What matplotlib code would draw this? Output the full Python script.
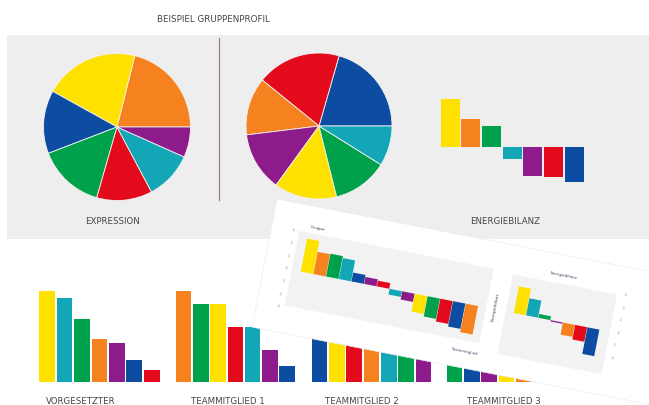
import matplotlib
matplotlib.use('Agg')
import matplotlib.pyplot as plt
from matplotlib.transforms import Affine2D
from matplotlib.patches import Rectangle

W, H = 649, 405

# colour palette
YEL = '#FFE100'
ORA = '#F5821F'
BLU = '#0C4DA2'
GRN = '#00A14B'
RED = '#E30A1C'
CYA = '#13A6B6'
PUR = '#8D1B8C'

# ---------------- data ----------------
title = 'BEISPIEL GRUPPENPROFIL'
expr_label = 'EXPRESSION'
energy_label = 'ENERGIEBILANZ'

expr_values = [76, 75, 50, 53, 44, 38, 24]
expr_colors = [ORA, YEL, BLU, GRN, RED, CYA, PUR]

pie2_values = [74, 67, 46, 47, 50, 44, 32]
pie2_colors = [BLU, RED, ORA, PUR, YEL, GRN, CYA]

energy_values = [4.8, 2.8, 2.1, -1.2, -2.9, -3.0, -3.5]
energy_colors = [YEL, ORA, GRN, CYA, PUR, RED, BLU]

member_labels = ['VORGESETZTER', 'TEAMMITGLIED 1', 'TEAMMITGLIED 2', 'TEAMMITGLIED 3']
vorg_values = [91, 84, 63, 43, 39, 22, 12]
vorg_colors = [YEL, CYA, GRN, ORA, PUR, BLU, RED]
tm1_values = [91, 78, 78, 55, 55, 32, 16]
tm1_colors = [ORA, GRN, YEL, RED, CYA, PUR, BLU]
tm2_values = [88, 84, 80, 76, 72, 68, 64]
tm2_colors = [BLU, YEL, RED, ORA, CYA, GRN, PUR]
tm3_values = [60, 52, 46, 40, 34, 28, 22]
tm3_colors = [GRN, BLU, PUR, YEL, ORA, RED, CYA]

# tilted sheet (photo overlay)
sheet_left_values = [2.6, 1.75, 1.8, 1.65, 0.7, 0.55, 0.45,
                     -0.45, -0.65, -1.4, -1.6, -1.8, -2.0, -2.25]
sheet_left_colors = [YEL, ORA, GRN, CYA, BLU, PUR, RED,
                     CYA, PUR, YEL, GRN, RED, BLU, ORA]
sheet_right_values = [2.1, 1.35, 0.3, -0.1, -0.95, -1.15, -2.1]
sheet_right_colors = [YEL, CYA, GRN, PUR, ORA, RED, BLU]
sheet_left_ticks = ['3', '2', '1', '0', '-1', '-2', '-3']
sheet_right_ticks = ['3', '2', '1', '0', '-1', '-2']

# ---------------- figure ----------------
fig = plt.figure(figsize=(W / 100, H / 100), dpi=100, facecolor='white')


def px_axes(x0, y0, x1, y1):
    return fig.add_axes([x0 / W, 1 - y1 / H, (x1 - x0) / W, (y1 - y0) / H])


TXT = '#454545'

# canvas (background band, divider, titles)
cv = px_axes(0, 0, W, H)
cv.set_xlim(0, W)
cv.set_ylim(H, 0)
cv.axis('off')
cv.add_patch(Rectangle((7, 35), W - 7, 204, facecolor='#eeeeee', lw=0))
cv.plot([219, 219], [38, 200], color='#a07c86', lw=0.9)
cv.text(213, 19, title, fontsize=6.3, color=TXT, ha='center', va='center')
cv.text(113, 221, expr_label, fontsize=6.2, color=TXT, ha='center', va='center')
cv.text(505, 222, energy_label, fontsize=6.2, color=TXT, ha='center', va='center')
label_x = [81, 228, 362, 504]
for lx, lab in zip(label_x, member_labels):
    cv.text(lx, 397, lab, fontsize=6.2, color=TXT, ha='center', va='top')

# pies
for (cx, cy, r), vals, cols in [((117, 127, 73.5), expr_values, expr_colors),
                                ((319, 126, 73), pie2_values, pie2_colors)]:
    ax = px_axes(cx - r, cy - r, cx + r, cy + r)
    ax.pie(vals, colors=cols, startangle=0, counterclock=True,
           wedgeprops=dict(edgecolor='#f6f2f2', linewidth=0.6))
    ax.set_xlim(-1, 1)
    ax.set_ylim(-1, 1)
    ax.set_aspect('equal')

# energy balance bars
ea = px_axes(439.7, 90, 584.7, 190)
ea.bar(range(len(energy_values)), energy_values, width=0.92, color=energy_colors)
ea.set_xlim(-0.5, 6.5)
ea.set_ylim(-4.33, 5.67)
ea.axis('off')

# member bars
groups = [((38.5, 160.4), vorg_values, vorg_colors),
          ((175.1, 295.8), tm1_values, tm1_colors),
          ((310.8, 432.2), tm2_values, tm2_colors),
          ((445.8, 567.2), tm3_values, tm3_colors)]
for (x0, x1), vals, cols in groups:
    ax = px_axes(x0, 281.7, x1, 381.7)
    ax.bar(range(len(vals)), vals, width=0.9, color=cols)
    ax.set_xlim(-0.5, 6.5)
    ax.set_ylim(0, 100)
    ax.axis('off')

# tilted sheet overlay
pax = px_axes(0, 0, W, H)
pax.axis('off')
ANG = 11
paper = Affine2D().rotate_deg(ANG).translate(277, 199) + pax.transData
pax.add_patch(Rectangle((0, 0), 420, 130.5, transform=paper,
                        facecolor='white', edgecolor='#ececec', lw=0.5))
pax.add_patch(Rectangle((28, 27), 198, 76, transform=paper,
                        facecolor='#f2f2f2', lw=0))
pax.add_patch(Rectangle((246, 29), 106, 81, transform=paper,
                        facecolor='#f2f2f2', lw=0))

UNIT = 12.9
BASE = 66.7
t_left = Affine2D().scale(12.93, -UNIT).translate(43.4, BASE) + paper
t_right = Affine2D().scale(12.5, -UNIT).translate(260.3, BASE) + paper
pax.bar(range(len(sheet_left_values)), sheet_left_values, width=0.97,
        color=sheet_left_colors, transform=t_left)
pax.bar(range(len(sheet_right_values)), sheet_right_values, width=0.97,
        color=sheet_right_colors, transform=t_right)

for k, lab in enumerate(sheet_left_ticks):
    pax.text(22, BASE - (3 - k) * UNIT, lab, transform=paper, fontsize=2.6,
             color='#8a8a8a', ha='center', va='center', rotation=-ANG,
             rotation_mode='anchor')
for k, lab in enumerate(sheet_right_ticks):
    pax.text(360, BASE - (3 - k) * UNIT, lab, transform=paper, fontsize=2.6,
             color='#8a8a8a', ha='center', va='center', rotation=-ANG,
             rotation_mode='anchor')
pax.text(46, 21, 'Gruppe', transform=paper, fontsize=3, color='#3f4a66',
         ha='center', va='center', rotation=-ANG, rotation_mode='anchor')
pax.text(296, 21, 'Energiebilanz', transform=paper, fontsize=3, color='#3f4a66',
         ha='center', va='center', rotation=-ANG, rotation_mode='anchor')
pax.text(235, 64, 'Energiebilanz', transform=paper, fontsize=3.2, color='#444444',
         ha='center', va='center', rotation=90 - ANG, rotation_mode='anchor')
pax.text(213, 114, 'Teammitglied', transform=paper, fontsize=2.8, color='#3f4a66',
         ha='center', va='center', rotation=-ANG, rotation_mode='anchor')

pax.set_xlim(0, W)
pax.set_ylim(H, 0)

fig.savefig('out.png', dpi=100, facecolor='white')
